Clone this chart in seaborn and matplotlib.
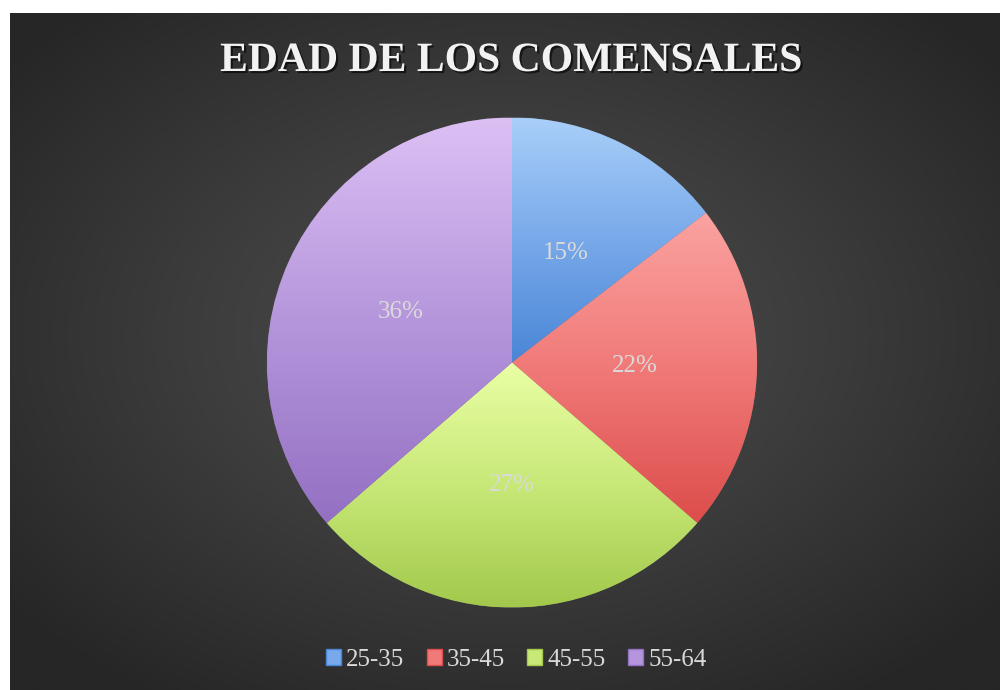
import numpy as np
import matplotlib
matplotlib.use("Agg")
import matplotlib.pyplot as plt
import matplotlib.patheffects as pe
from matplotlib.patches import Patch
from matplotlib.colors import LinearSegmentedColormap
import seaborn as sns

# ---- data ----
categories = ["25-35", "35-45", "45-55", "55-64"]
counts = [8, 12, 15, 20]
title = "EDAD DE LOS COMENSALES"

top_colors = ["#a9cff9", "#fba3a1", "#eaffa6", "#dcc0f4"]
bottom_colors = ["#4a86d6", "#dc4d4b", "#a2c94c", "#9470c2"]
mid_colors = ["#78a9ea", "#f07a78", "#c8e878", "#b596dc"]

sns.set_theme(style="dark")
plt.rcParams["font.family"] = ["Liberation Serif", "DejaVu Serif"]

fig = plt.figure(figsize=(10, 6.9), dpi=100)
fig.patch.set_facecolor("white")

# background with radial gradient
bg = fig.add_axes([0.01, 0.0, 0.99, 1 - 13 / 690])
bg.set_axis_off()
yy, xx = np.mgrid[-1:1:400j, -1:1:600j]
rr = np.sqrt(xx ** 2 + (yy + 0.05) ** 2)
rr = np.clip(rr / 1.3, 0, 1)
bgcmap = LinearSegmentedColormap.from_list("bg", ["#4f4f4f", "#3c3c3c", "#262626"])
bg.imshow(rr, cmap=bgcmap, extent=(0, 1, 0, 1), aspect="auto", vmin=0, vmax=1)
bg.set_xlim(0, 1)
bg.set_ylim(0, 1)

# pie axes
cx, cy, R = 512 / 1000, 1 - 362.5 / 690, 245
ax = fig.add_axes([cx - R / 1000, cy - R / 690, 2 * R / 1000, 2 * R / 690])
ax.set_axis_off()
wedges, texts, autotexts = ax.pie(
    counts, startangle=90, counterclock=False, colors=mid_colors,
    autopct="%1.0f%%", pctdistance=0.5,
    wedgeprops=dict(linewidth=0.6, edgecolor="#55555588"),
    textprops=dict(color="#dadada", fontsize=18),
)
ax.set_xlim(-1, 1)
ax.set_ylim(-1, 1)
ax.set_aspect("equal")

for i, w in enumerate(wedges):
    th = np.radians(np.linspace(w.theta1, w.theta2, 200))
    xs = np.concatenate([[0], np.cos(th)])
    ys = np.concatenate([[0], np.sin(th)])
    x0, x1, y0, y1 = xs.min(), xs.max(), ys.min(), ys.max()
    cmap = LinearSegmentedColormap.from_list(
        f"g{i}", [bottom_colors[i], mid_colors[i], top_colors[i]])
    grad = np.linspace(0, 1, 256).reshape(-1, 1)
    im = ax.imshow(grad, cmap=cmap, extent=(x0, x1, y0, y1), origin="lower",
                   aspect="auto", zorder=w.get_zorder() + 0.1)
    im.set_clip_path(w)
for t in autotexts:
    t.set_zorder(5)
ax.set_xlim(-1, 1)
ax.set_ylim(-1, 1)

# title
fig.text(0.511, 1 - 61 / 690, title, ha="center", va="center",
         fontsize=30, fontweight="bold", color="#f2f2f2",
         path_effects=[pe.withSimplePatchShadow(offset=(1.5, -1.5), shadow_rgbFace="black", alpha=0.6)])

# legend
handles = [Patch(facecolor=mid_colors[i], edgecolor=bottom_colors[i], label=c)
           for i, c in enumerate(categories)]
leg = fig.legend(handles=handles, loc="center", bbox_to_anchor=(0.516, 1 - 660 / 690),
                 ncol=4, frameon=False, fontsize=18, handlelength=0.6, handleheight=0.6,
                 handletextpad=0.2, columnspacing=0.9)
for t in leg.get_texts():
    t.set_color("#d9d9d9")

fig.savefig("out.png", dpi=100, facecolor=fig.get_facecolor())
